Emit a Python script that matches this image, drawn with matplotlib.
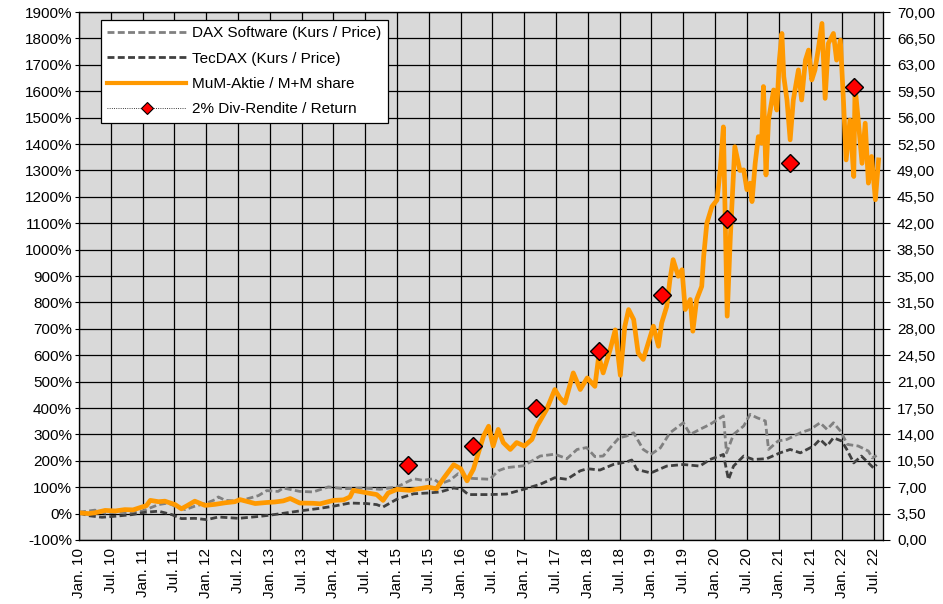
import matplotlib
matplotlib.use("Agg")
import matplotlib.pyplot as plt
from matplotlib.lines import Line2D
from matplotlib.ticker import FuncFormatter

plt.rcParams['font.family'] = ['Liberation Sans', 'DejaVu Sans']

# ---- data (decimal years, % change / EUR) ----
mum_t = [2010.00, 2010.15, 2010.25, 2010.41, 2010.57, 2010.72, 2010.85, 2010.99, 2011.06, 2011.12,
         2011.25, 2011.35, 2011.51, 2011.61, 2011.70, 2011.82, 2011.98, 2012.14, 2012.30, 2012.45,
         2012.53, 2012.66, 2012.77, 2012.95, 2013.08, 2013.21, 2013.32, 2013.47, 2013.68, 2013.79,
         2014.00, 2014.16, 2014.26, 2014.31, 2014.50, 2014.68, 2014.78, 2014.86, 2015.00, 2015.20,
         2015.49, 2015.62, 2015.73, 2015.89, 2016.00, 2016.10, 2016.20, 2016.28, 2016.36, 2016.44,
         2016.51, 2016.59, 2016.67, 2016.78, 2016.88, 2017.00, 2017.12, 2017.20, 2017.35, 2017.48,
         2017.56, 2017.64, 2017.77, 2017.88, 2017.99, 2018.11, 2018.17, 2018.24, 2018.35, 2018.43,
         2018.51, 2018.58, 2018.64, 2018.72, 2018.79, 2018.87, 2018.95, 2019.03, 2019.11, 2019.16,
         2019.24, 2019.29, 2019.34, 2019.42, 2019.48, 2019.53, 2019.61, 2019.65, 2019.71, 2019.79,
         2019.82, 2019.87, 2019.95, 2020.03, 2020.08, 2020.13, 2020.16, 2020.19, 2020.24, 2020.31,
         2020.39, 2020.45, 2020.50, 2020.55, 2020.58, 2020.63, 2020.68, 2020.73, 2020.76, 2020.80,
         2020.84, 2020.92, 2020.97, 2021.01, 2021.05, 2021.08, 2021.13, 2021.18, 2021.23, 2021.31,
         2021.36, 2021.42, 2021.47, 2021.52, 2021.57, 2021.62, 2021.68, 2021.73, 2021.78, 2021.86,
         2021.91, 2021.97, 2022.02, 2022.06, 2022.12, 2022.18, 2022.20, 2022.25, 2022.31, 2022.36,
         2022.41, 2022.46, 2022.52, 2022.57]
mum_v = [3, 0, 3, 12, 10, 15, 14, 25, 30, 50,
         45, 47, 34, 18, 30, 47, 31, 35, 41, 45,
         53, 45, 38, 42, 44, 48, 57, 40, 39, 37,
         50, 52, 63, 88, 80, 72, 50, 78, 92, 88,
         100, 94, 133, 185, 170, 124, 168, 231, 294, 331,
         256, 319, 269, 243, 269, 256, 281, 331, 394, 470,
         438, 419, 533, 470, 514, 482, 596, 533, 621, 696,
         524, 709, 773, 735, 609, 584, 647, 710, 634, 722,
         785, 886, 962, 899, 924, 773, 811, 691, 811, 861,
         974, 1100, 1163, 1188, 1302, 1465, 1113, 748, 1050, 1390,
         1300, 1302, 1227, 1252, 1182, 1327, 1428, 1403, 1618, 1283,
         1491, 1605, 1529, 1718, 1819, 1655, 1567, 1416, 1567, 1681,
         1567, 1718, 1756, 1643, 1681, 1756, 1857, 1573, 1781, 1819,
         1718, 1794, 1554, 1340, 1491, 1277, 1618, 1491, 1327, 1479,
         1252, 1353, 1189, 1340]

dax_t = [2010.00, 2010.25, 2010.41, 2010.60, 2010.83, 2010.99, 2011.25, 2011.40, 2011.51, 2011.67,
         2011.82, 2012.01, 2012.14, 2012.19, 2012.30, 2012.51, 2012.66, 2012.82, 2012.95, 2013.13,
         2013.21, 2013.47, 2013.68, 2013.92, 2014.16, 2014.47, 2014.73, 2015.00, 2015.10, 2015.26,
         2015.41, 2015.57, 2015.68, 2015.83, 2015.96, 2016.10, 2016.20, 2016.46, 2016.59, 2016.72,
         2016.99, 2017.25, 2017.48, 2017.67, 2017.83, 2017.98, 2018.11, 2018.24, 2018.35, 2018.49,
         2018.61, 2018.72, 2018.87, 2018.99, 2019.14, 2019.29, 2019.50, 2019.61, 2019.76, 2019.92,
         2020.13, 2020.18, 2020.29, 2020.45, 2020.55, 2020.66, 2020.79, 2020.84, 2020.99, 2021.13,
         2021.34, 2021.50, 2021.65, 2021.76, 2021.86, 2021.97, 2022.08, 2022.25, 2022.41, 2022.47,
         2022.54]
dax_v = [5, 13, 2, 5, 3, 9, 34, 40, 28, 15,
         28, 40, 53, 63, 50, 47, 57, 68, 87, 84,
         97, 84, 82, 101, 94, 97, 92, 101, 113, 132,
         126, 132, 113, 126, 151, 135, 133, 130, 162, 174,
         181, 218, 225, 208, 243, 250, 216, 218, 249, 287,
         294, 306, 243, 224, 249, 306, 344, 300, 319, 338,
         370, 230, 300, 332, 376, 363, 351, 243, 275, 281,
         306, 319, 344, 319, 344, 313, 262, 256, 237, 211,
         220]

tec_t = [2010.00, 2010.15, 2010.36, 2010.57, 2010.83, 2011.04, 2011.25, 2011.46, 2011.61, 2011.82,
         2012.01, 2012.19, 2012.51, 2012.82, 2013.00, 2013.24, 2013.47, 2013.79, 2014.00, 2014.26,
         2014.52, 2014.68, 2014.78, 2015.00, 2015.26, 2015.49, 2015.68, 2015.89, 2016.02, 2016.12,
         2016.46, 2016.72, 2016.99, 2017.25, 2017.48, 2017.67, 2017.88, 2017.99, 2018.19, 2018.40,
         2018.61, 2018.69, 2018.77, 2018.99, 2019.24, 2019.50, 2019.76, 2019.92, 2020.13, 2020.21,
         2020.29, 2020.45, 2020.60, 2020.81, 2021.02, 2021.18, 2021.34, 2021.55, 2021.65, 2021.76,
         2021.86, 2021.99, 2022.07, 2022.18, 2022.30, 2022.41, 2022.49, 2022.54]
tec_v = [3, -8, -14, -10, -4, 5, 9, -4, -19, -18,
         -23, -13, -18, -11, -6, 2, 10, 20, 28, 40,
         38, 34, 25, 55, 75, 78, 82, 97, 92, 72,
         72, 74, 92, 111, 136, 130, 162, 170, 165, 186,
         196, 203, 167, 154, 180, 186, 180, 205, 224, 129,
         180, 218, 205, 208, 230, 243, 230, 256, 281, 256,
         287, 275, 243, 192, 218, 192, 173, 186]

div_t = [2015.17, 2016.20, 2017.19, 2018.18, 2019.17, 2020.19, 2021.18, 2022.19]
div_v = [10.0, 12.5, 17.5, 25.0, 32.5, 42.5, 50.0, 60.0]   # EUR, right axis

x_tick_labels = []
for yr in range(10, 23):
    x_tick_labels += [f"Jan. {yr}", f"Jul. {yr}"]

# ---- figure ----
fig = plt.figure(figsize=(9.43, 6.04), dpi=100)
ax = fig.add_axes([0.0838, 0.106, 0.8526, 0.874])
ax.set_facecolor('#D9D9D9')

dash = (0, (2.5, 1.2))
ax.plot(dax_t, dax_v, color='#808080', lw=2.0, ls=dash, zorder=3)
ax.plot(tec_t, tec_v, color='#404040', lw=2.0, ls=dash, zorder=3)
ax.plot(mum_t, mum_v, color='#FF9900', lw=3.4, zorder=4, solid_joinstyle='round')

ax.set_xlim(2010.0, 2022.64)
ax.set_ylim(-100, 1900)
ax.set_yticks(range(-100, 1901, 100))
ax.yaxis.set_major_formatter(FuncFormatter(lambda v, p: f"{int(v)}%"))
xt = [2010 + 0.5 * i for i in range(len(x_tick_labels))]
ax.set_xticks(xt)
ax.set_xticklabels(x_tick_labels, rotation=90, fontsize=11)
ax.tick_params(axis='x', length=0, pad=6)
ax.tick_params(axis='y', length=3, labelsize=11, pad=2)
ax.grid(True, color='black', lw=0.9, zorder=1)
ax.set_axisbelow(True)
for s in ax.spines.values():
    s.set_color('black')
    s.set_linewidth(0.9)

ax2 = ax.twinx()
ax2.set_ylim(0, 70)
ax2.set_yticks([3.5 * i for i in range(21)])
ax2.yaxis.set_major_formatter(FuncFormatter(lambda v, p: f"{v:.2f}".replace('.', ',')))
ax2.tick_params(axis='y', length=5, labelsize=11, pad=5)
ax2.plot(div_t, div_v, ls='none', marker='D', markersize=9, markerfacecolor='#FF0000',
         markeredgecolor='black', markeredgewidth=1.0, zorder=5)

handles = [
    Line2D([], [], color='#808080', lw=2.0, ls=dash),
    Line2D([], [], color='#404040', lw=2.0, ls=dash),
    Line2D([], [], color='#FF9900', lw=3.0),
    Line2D([], [], color='black', lw=0.6, ls=':', marker='D', markersize=6,
           markerfacecolor='#FF0000', markeredgecolor='black', markeredgewidth=0.8),
]
labels = ['DAX Software (Kurs / Price)', 'TecDAX (Kurs / Price)',
          'MuM-Aktie / M+M share', '2% Div-Rendite / Return']
leg = ax2.legend(handles, labels, loc='upper left', bbox_to_anchor=(0.027, 0.985),
                 borderaxespad=0, fontsize=11, frameon=True, fancybox=False,
                 edgecolor='black', facecolor='white', framealpha=1,
                 handlelength=5.2, handletextpad=0.4, labelspacing=0.75)
leg.get_frame().set_linewidth(0.9)

fig.savefig('out.png', dpi=100)
